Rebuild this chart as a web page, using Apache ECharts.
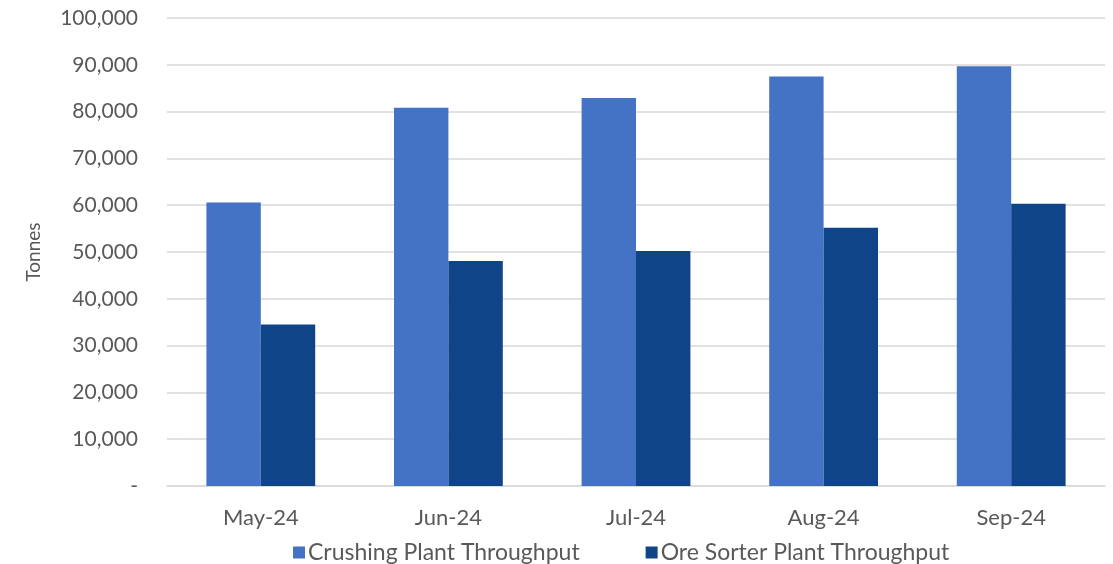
<!DOCTYPE html>
<html>
<head>
<meta charset="utf-8">
<script src="https://cdn.jsdelivr.net/npm/echarts@6/dist/echarts.min.js"></script>
<style>html,body{margin:0;padding:0;background:#fff;}#c{width:1113px;height:564px;}</style>
</head>
<body>
<div id="c"></div>
<script>
const categories = ['May-24', 'Jun-24', 'Jul-24', 'Aug-24', 'Sep-24'];
const crushing = [60600, 80800, 82900, 87500, 89700];
const oreSorter = [34500, 48100, 50200, 55200, 60300];
const seriesNames = ['Crushing Plant Throughput', 'Ore Sorter Plant Throughput'];
const axisName = 'Tonnes';

const FONT = 'Lato, "Open Sans", sans-serif';
const chart = echarts.init(document.getElementById('c'), null, {renderer: 'canvas'});
chart.setOption({
  animation: false,
  grid: {left: 167, right: 8, top: 18, bottom: 78, containLabel: false},
  legend: {
    top: 536, left: 288, itemWidth: 12, itemHeight: 12, itemGap: 66,
    icon: 'rect',
    textStyle: {fontFamily: FONT, fontSize: 23, color: '#595959', padding: [0, 0, 0, -2]},
    data: seriesNames
  },
  xAxis: {
    type: 'category', data: categories,
    axisLine: {show: true, lineStyle: {color: '#d9d9d9', width: 1.5}},
    axisTick: {show: false},
    axisLabel: {fontFamily: FONT, fontSize: 22, color: '#595959', margin: 21}
  },
  yAxis: {
    type: 'value', min: 0, max: 100000, interval: 10000,
    name: axisName, nameLocation: 'middle', nameGap: 124, nameRotate: 90,
    nameTextStyle: {fontFamily: FONT, fontSize: 19, color: '#595959'},
    axisLine: {show: false}, axisTick: {show: false},
    splitLine: {lineStyle: {color: '#d9d9d9', width: 1.5}},
    axisLabel: {
      fontFamily: FONT, fontSize: 21, color: '#595959', margin: 29,
      formatter: v => v === 0 ? '-' : v.toLocaleString('en-US')
    }
  },
  series: [
    {name: seriesNames[0], type: 'bar', data: crushing, barGap: '0%', barCategoryGap: '42%',
     itemStyle: {color: '#4472C4'}},
    {name: seriesNames[1], type: 'bar', data: oreSorter, barGap: '0%', barCategoryGap: '42%',
     itemStyle: {color: '#0F4588'}}
  ]
});
</script>
</body>
</html>
